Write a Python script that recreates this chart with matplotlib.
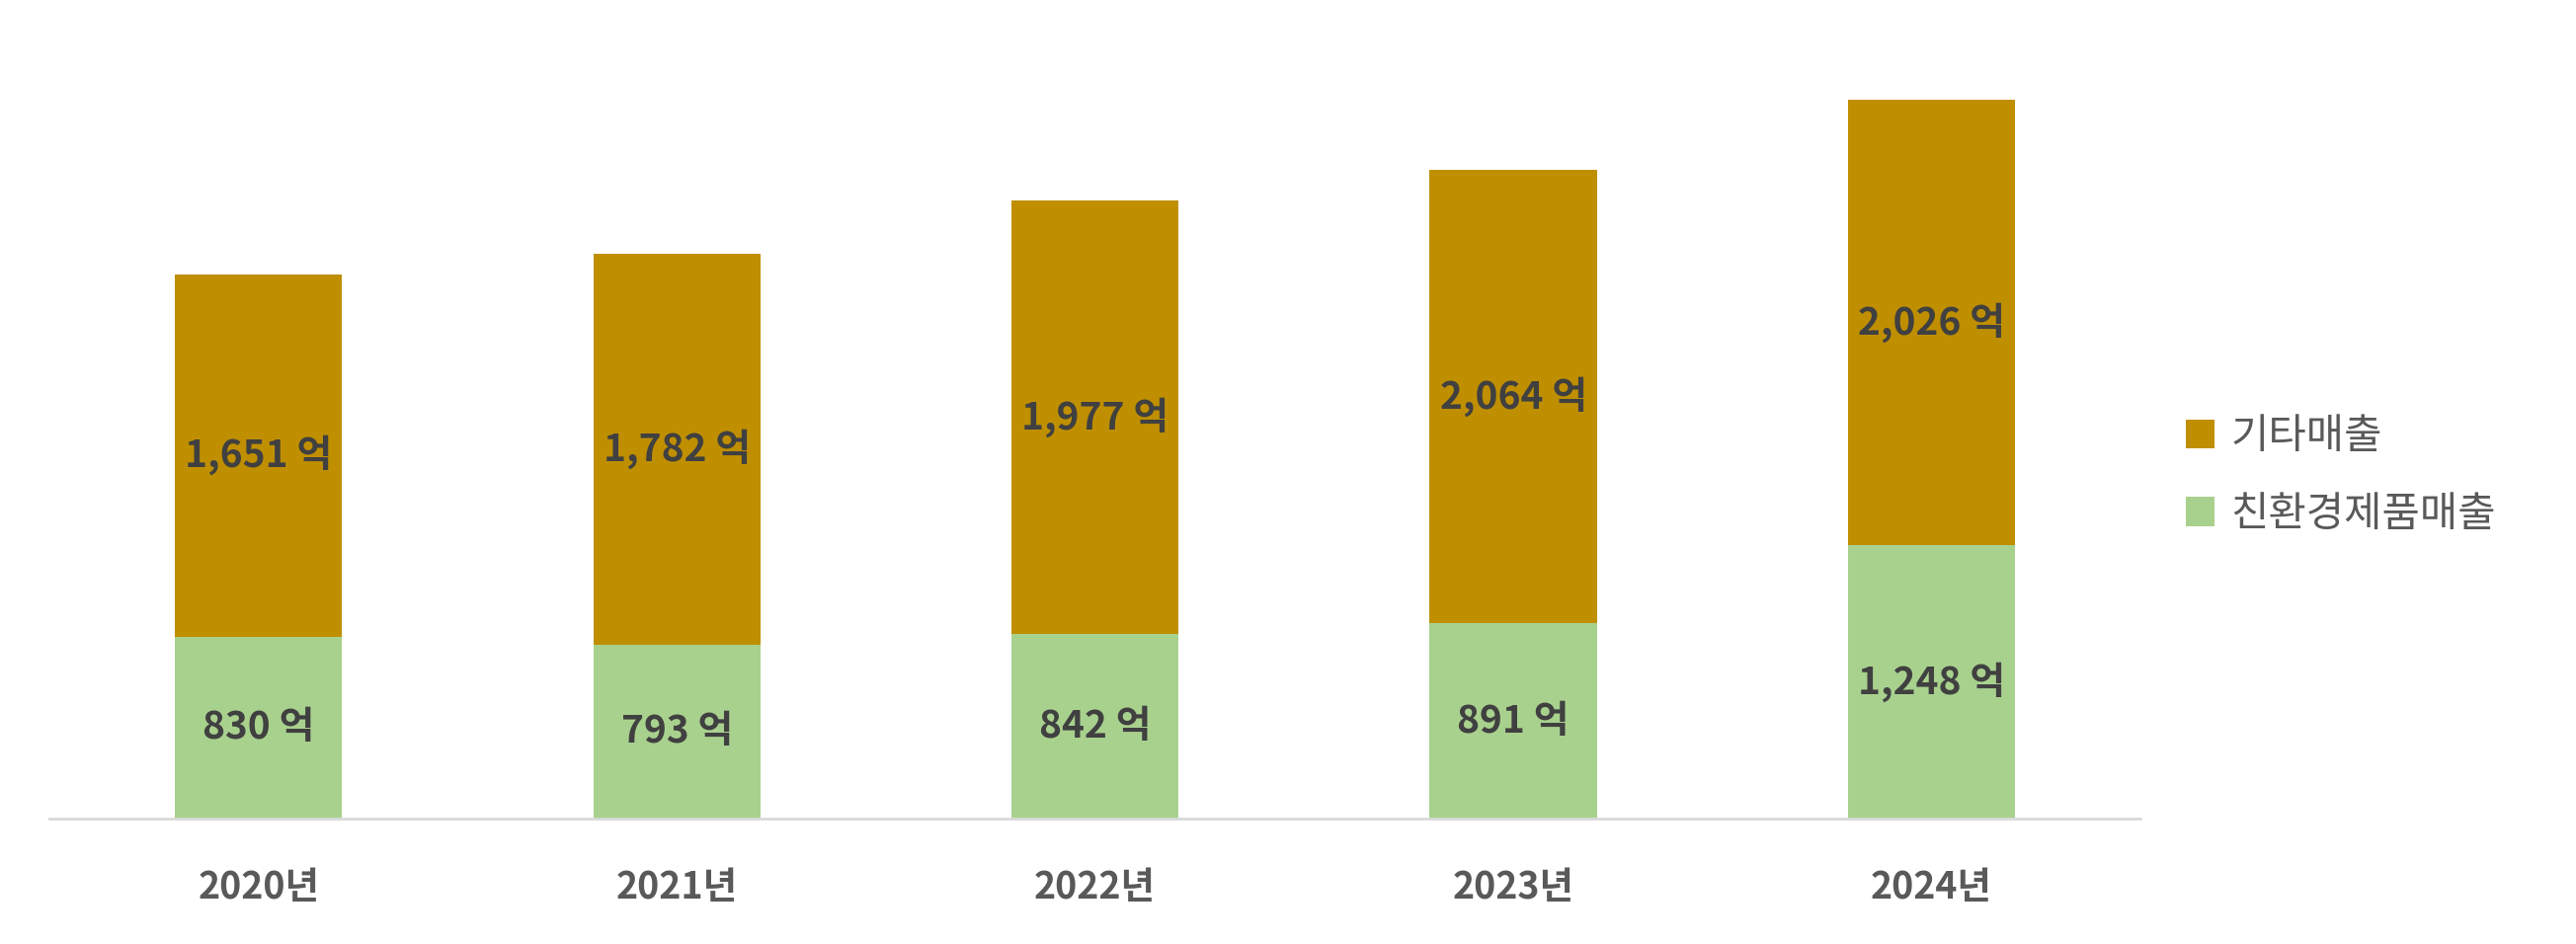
import numpy as np
import matplotlib.pyplot as plt

plt.rcParams['font.family'] = ['Noto Sans CJK KR', 'DejaVu Sans']

years = ['2020년', '2021년', '2022년', '2023년', '2024년']
eco_sales = [830, 793, 842, 891, 1248]
other_sales = [1651, 1782, 1977, 2064, 2026]

GREEN = '#A9D18E'
BROWN = '#BF8F00'


def main():
    fig = plt.figure(figsize=(26.08, 9.56), dpi=100)
    ax = fig.add_axes([0.0192, 0.1328, 0.8118, 0.8369])

    x = np.arange(len(years))
    eco = np.array(eco_sales)
    other = np.array(other_sales)

    b1 = ax.bar(x, eco, width=0.4, color=GREEN, label='친환경제품매출')
    b2 = ax.bar(x, other, width=0.4, bottom=eco, color=BROWN, label='기타매출')

    for i in range(len(x)):
        ax.text(x[i], eco[i] / 2, f'{eco[i]:,} 억', ha='center', va='center',
                fontsize=28, fontweight='bold', color='#404040')
        ax.text(x[i], eco[i] + other[i] / 2, f'{other[i]:,} 억', ha='center', va='center',
                fontsize=28, fontweight='bold', color='#404040')

    ax.set_xlim(-0.5, 4.5)
    ax.set_ylim(0, 3600)
    ax.set_xticks(x)
    ax.set_xticklabels(years, fontsize=27, fontweight='bold', color='#595959')
    ax.tick_params(axis='x', length=0, pad=36)
    ax.set_yticks([])
    for s in ['top', 'right', 'left']:
        ax.spines[s].set_visible(False)
    ax.spines['bottom'].set_color('#D9D9D9')
    ax.spines['bottom'].set_linewidth(2)

    leg = fig.legend(handles=[b2, b1], labels=['기타매출', '친환경제품매출'],
                     loc='center left', bbox_to_anchor=(0.834, 0.496),
                     frameon=False, fontsize=30, handlelength=0.7, handleheight=0.7,
                     handletextpad=0.4, labelspacing=0.9)
    for t in leg.get_texts():
        t.set_color('#595959')

    fig.savefig('out.png', dpi=100)


if __name__ == "__main__":
    main()
